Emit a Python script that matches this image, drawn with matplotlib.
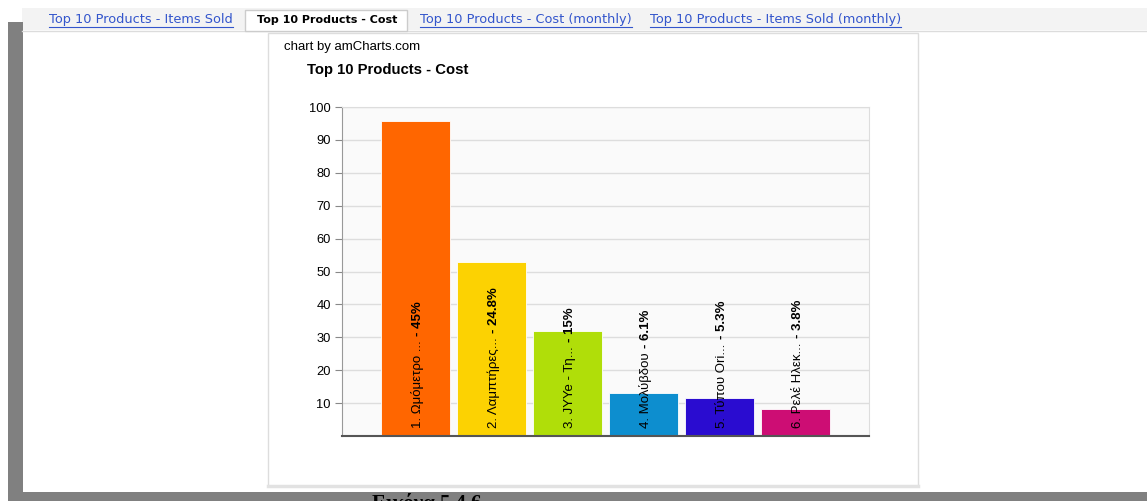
import matplotlib
matplotlib.use("Agg")
import matplotlib.pyplot as plt
from matplotlib.patches import Rectangle
from matplotlib.lines import Line2D

# ---- data ----
categories = ["1. Ωμόμετρο ...", "2. Λαμπτήρες...", "3. JYYe - Τη...",
              "4. Μολύβδου", "5. Τύπου Ori...", "6. Ρελέ Ηλεκ..."]
values = [95.7, 52.8, 31.9, 13.0, 11.4, 8.1]
percents = ["45%", "24.8%", "15%", "6.1%", "5.3%", "3.8%"]
colors = ["#FF6600", "#FCD202", "#B0DE09", "#0D8ECF", "#2A0CD0", "#CD0D74"]
yticks = [10, 20, 30, 40, 50, 60, 70, 80, 90, 100]
tab_labels = ["Top 10 Products - Items Sold", "Top 10 Products - Cost",
              "Top 10 Products - Cost (monthly)", "Top 10 Products - Items Sold (monthly)"]
active_tab = 1
tab_x = [49, 257, 420, 650]
title = "Top 10 Products - Cost"
credit = "chart by amCharts.com"
caption = "Εικόνα 5.4.6"

W, H = 1147, 501
fig = plt.figure(figsize=(W / 100, H / 100), dpi=100)
fig.patch.set_facecolor("white")
SANS = ["Liberation Sans", "DejaVu Sans"]


def fx(px):
    return px / W


def fy(py):
    return 1 - py / H


def rect(x0, y0, x1, y1, **kw):
    r = Rectangle((fx(x0), fy(y1)), (x1 - x0) / W, (y1 - y0) / H,
                  transform=fig.transFigure, **kw)
    fig.add_artist(r)
    return r


# page decorations
rect(22, 8, W, 30, facecolor="#f3f3f3", edgecolor="none", zorder=0)
fig.add_artist(Line2D([fx(22), 1], [fy(30.5), fy(30.5)], transform=fig.transFigure,
                      color="#dcdcdc", lw=1, zorder=0.5))
rect(8, 22, 23, 492, facecolor="#808080", edgecolor="none", zorder=0)
rect(8, 492, W, H + 2, facecolor="#808080", edgecolor="none", zorder=0)
rect(245, 10, 407, 31, facecolor="white", edgecolor="#cccccc", lw=1, zorder=1)
rect(268, 33, 918, 486, facecolor="white", edgecolor="#dddddd", lw=1, zorder=1)
fig.add_artist(Line2D([fx(268), fx(918)], [fy(486), fy(486)], transform=fig.transFigure,
                      color="#e2e2e2", lw=2.5, zorder=1))

tab_texts = []
for i, (lab, x) in enumerate(zip(tab_labels, tab_x)):
    if i == active_tab:
        t = fig.text(fx(x), fy(20), lab, fontsize=8, fontweight="bold", color="black",
                     ha="left", va="center", family="DejaVu Sans", zorder=2)
    else:
        t = fig.text(fx(x), fy(20), lab, fontsize=9.3, color="#3355cc",
                     ha="left", va="center", family="DejaVu Sans", zorder=2)
        tab_texts.append(t)

fig.text(fx(284), fy(47), credit, fontsize=9.5, family=SANS, color="black",
         ha="left", va="center", zorder=2)
fig.text(fx(307), fy(70), title, fontsize=10.7, fontweight="bold", family=SANS,
         color="black", ha="left", va="center", zorder=2)
fig.text(fx(372), fy(494), caption, fontsize=15, fontweight="bold", family="Liberation Serif",
         color="black", ha="left", va="top", zorder=2)

# ---- chart ----
ax = fig.add_axes([fx(342), fy(436), 527 / W, 329 / H], zorder=3)
ax.set_facecolor("#fafafa")
x = list(range(len(values)))
ax.bar(x, values, width=0.908, color=colors, edgecolor="white", linewidth=0.6, zorder=2)
ax.set_xlim(-0.967, len(values) - 1 + 0.967)
ax.set_ylim(0, 100)
ax.set_yticks(yticks)
ax.set_xticks([])
ax.yaxis.grid(True, color="#dddddd", lw=1)
ax.set_axisbelow(True)
ax.tick_params(axis="y", length=5, color="#888888", labelsize=9.3, pad=3, labelcolor="black")
for lab in ax.get_yticklabels():
    lab.set_family(SANS)
ax.spines["left"].set_color("#999999")
ax.spines["right"].set_color("#dddddd")
ax.spines["top"].set_color("#dddddd")
ax.spines["bottom"].set_color("#555555")
ax.spines["bottom"].set_linewidth(1.5)

LABEL_FS = 9.5
name_texts = []
for i, name in enumerate(categories):
    t = ax.annotate(name, xy=(i, 0), xytext=(1.5, 6), textcoords="offset points",
                    rotation=90, ha="center", va="bottom", fontsize=LABEL_FS, family=SANS,
                    color="black", zorder=5)
    name_texts.append(t)

fig.canvas.draw()
renderer = fig.canvas.get_renderer()
for i, t in enumerate(name_texts):
    bb = t.get_window_extent(renderer)
    hpts = bb.height * 72 / fig.dpi
    ax.annotate("- " + percents[i], xy=(i, 0),
                xytext=(1.5, 6 + hpts + 3), textcoords="offset points",
                rotation=90, ha="center", va="bottom", fontsize=LABEL_FS, fontweight="bold",
                family=SANS, color="black", zorder=5)

# underline links
for t in tab_texts:
    bb = t.get_window_extent(renderer)
    y = bb.y0 - 0.5
    fig.add_artist(Line2D([bb.x0 / W, bb.x1 / W], [y / H, y / H], transform=fig.transFigure,
                          color="#3355cc", lw=0.8, zorder=2))

fig.savefig("out.png", dpi=100, facecolor="white")
